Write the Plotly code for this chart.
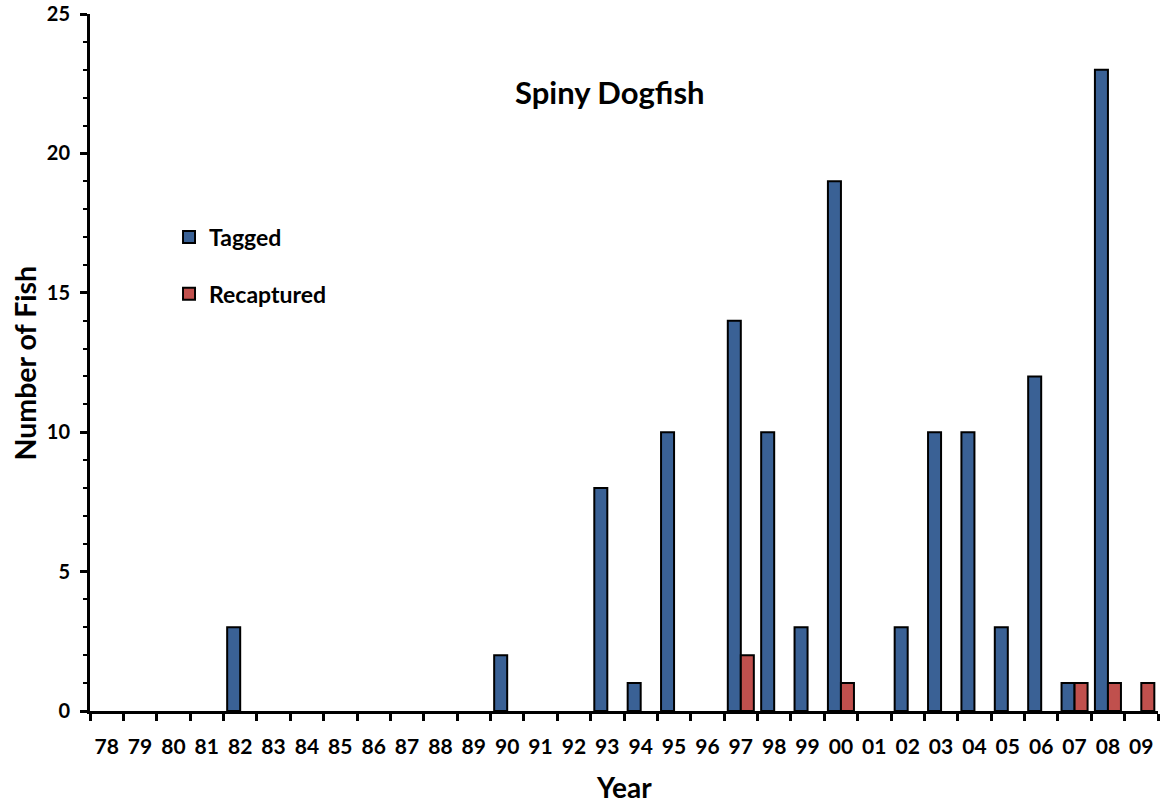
import plotly.graph_objects as go

years = ["78","79","80","81","82","83","84","85","86","87","88","89","90","91","92","93",
         "94","95","96","97","98","99","00","01","02","03","04","05","06","07","08","09"]
tagged = [0,0,0,0,3,0,0,0,0,0,0,0,2,0,0,8,1,10,0,14,10,3,19,0,3,10,10,3,12,1,23,0]
recaptured = [0,0,0,0,0,0,0,0,0,0,0,0,0,0,0,0,0,0,0,2,0,0,1,0,0,0,0,0,0,1,1,1]

FONT = "Lato"

def nz(vals):
    return [v if v else None for v in vals]

fig = go.Figure()
fig.add_trace(go.Bar(x=years, y=nz(tagged), name="Tagged", legendgroup="a",
                     marker=dict(color="#3A6195", line=dict(color="black", width=2))))
fig.add_trace(go.Bar(x=years, y=nz(recaptured), name="Recaptured", legendgroup="b",
                     marker=dict(color="#C0504D", line=dict(color="black", width=2))))

fig.update_layout(
    width=1160, height=803,
    margin=dict(l=90, r=2, t=14, b=92, autoexpand=False),
    plot_bgcolor="white", paper_bgcolor="white",
    barmode="group", bargap=0.22, bargroupgap=0,
    font=dict(family=FONT, color="black"),
    showlegend=True,
    legend=dict(x=0.074, y=0.711, xanchor="left", yanchor="top",
                font=dict(family=FONT, size=23, color="black", weight="bold"),
                tracegroupgap=24, bgcolor="rgba(0,0,0,0)", itemwidth=30),
    annotations=[
        dict(text="<b>Spiny Dogfish</b>", x=0.487, y=0.888, xref="paper", yref="paper",
             xanchor="center", yanchor="middle",
             showarrow=False, font=dict(family=FONT, size=31, color="black")),
        dict(text="<b>Year</b>", x=0.5, y=-0.109, xref="paper", yref="paper",
             xanchor="center", yanchor="middle",
             showarrow=False, font=dict(family=FONT, size=28, color="black")),
        dict(text="<b>Number of Fish</b>", x=-0.0609, y=0.5, xref="paper", yref="paper",
             xanchor="center", yanchor="middle", textangle=-90,
             showarrow=False, font=dict(family=FONT, size=28.5, color="black")),
    ],
)
fig.update_xaxes(
    type="category", showline=True, linecolor="black", linewidth=3,
    ticks="outside", tickson="boundaries", ticklen=7, tickwidth=2.5, tickcolor="black",
    tickfont=dict(family=FONT, size=21, color="black", weight="bold"),
    tickangle=0, ticklabeloverflow="allow",
    ticklabelstandoff=15, automargin=False,
    showgrid=False, zeroline=False,
)
fig.update_yaxes(
    range=[0, 25], tickvals=[0, 5, 10, 15, 20, 25],
    showline=True, linecolor="black", linewidth=3,
    ticks="outside", ticklen=7, tickwidth=2.5, tickcolor="black",
    minor=dict(ticks="outside", ticklen=4, tickwidth=2, tickcolor="black", dtick=1, showgrid=False),
    tickfont=dict(family=FONT, size=20, color="black", weight="bold"),
    ticklabeloverflow="allow",
    ticklabelstandoff=6, automargin=False,
    showgrid=False, zeroline=False,
)

fig.write_html(
    "out.html",
    config={"displayModeBar": False},
    post_script="document.body.style.margin='0';document.body.style.overflow='hidden';",
)
